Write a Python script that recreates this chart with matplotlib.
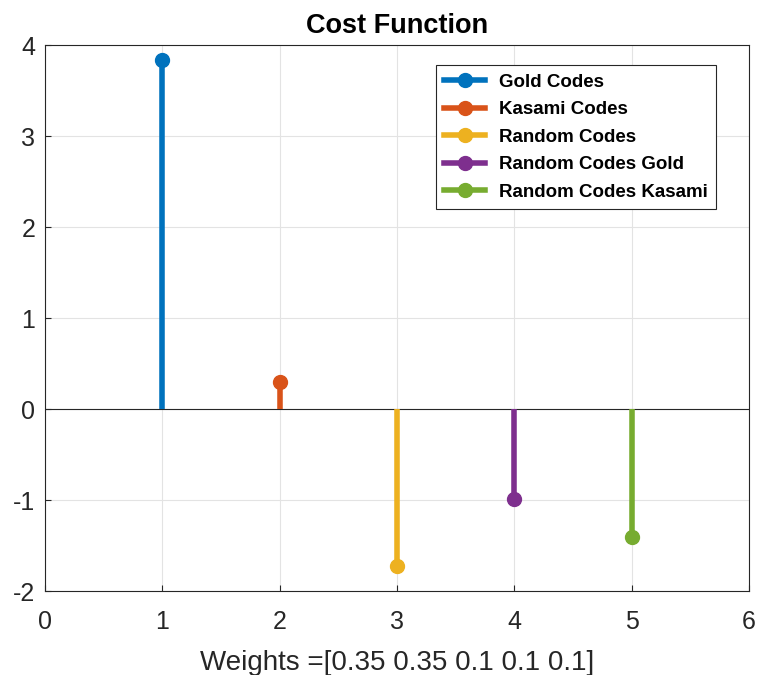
import matplotlib
matplotlib.use("Agg")
import matplotlib.pyplot as plt

plt.rcParams['font.family'] = ['Liberation Sans', 'DejaVu Sans']
plt.rcParams['axes.unicode_minus'] = False

# data
names = ['Gold Codes', 'Kasami Codes', 'Random Codes', 'Random Codes Gold', 'Random Codes Kasami']
xpos = [1, 2, 3, 4, 5]
costs = [3.83, 0.30, -1.725, -0.99, -1.41]
colors = ['#0072BD', '#D95319', '#EDB120', '#7E2F8E', '#77AC30']

fig = plt.figure(figsize=(7.57, 6.75), dpi=100)
ax = fig.add_axes([0.0594, 0.1244, 0.9300, 0.8089])

ax.axhline(0, color='#262626', lw=0.8, zorder=2)
for x, c, col, name in zip(xpos, costs, colors, names):
    ax.plot([x, x], [0, c], color=col, lw=4, solid_capstyle='butt', zorder=3)
    ax.plot([], [], color=col, lw=4, marker='o', markersize=10, label=name)
    ax.plot(x, c, 'o', color=col, markersize=10, zorder=4)

ax.set_xlim(0, 6)
ax.set_ylim(-2, 4)
ax.set_xticks(range(0, 7))
ax.set_yticks(range(-2, 5))
ax.grid(True, color='#e3e3e3', lw=0.8)
ax.set_axisbelow(True)
for s in ax.spines.values():
    s.set_color('#262626')
    s.set_linewidth(0.8)
ax.tick_params(labelsize=18, direction='in', length=4, color='#262626', labelcolor='#262626')
ax.tick_params(axis='x', pad=14)
ax.tick_params(axis='y', pad=7)

ax.set_title('Cost Function', fontsize=19.5, fontweight='bold', pad=9)
ax.set_xlabel('Weights =[0.35 0.35 0.1 0.1 0.1]', fontsize=20, labelpad=11, color='#262626')

leg = ax.legend(loc='upper left', bbox_to_anchor=(0.555, 0.963), prop={'weight': 'bold', 'size': 13.5},
                fancybox=False, edgecolor='#262626', framealpha=1, handlelength=2.2,
                handletextpad=0.7, labelspacing=0.55, borderpad=0.45, borderaxespad=0)
leg.get_frame().set_linewidth(0.8)

plt.savefig('out.png', dpi=100)
